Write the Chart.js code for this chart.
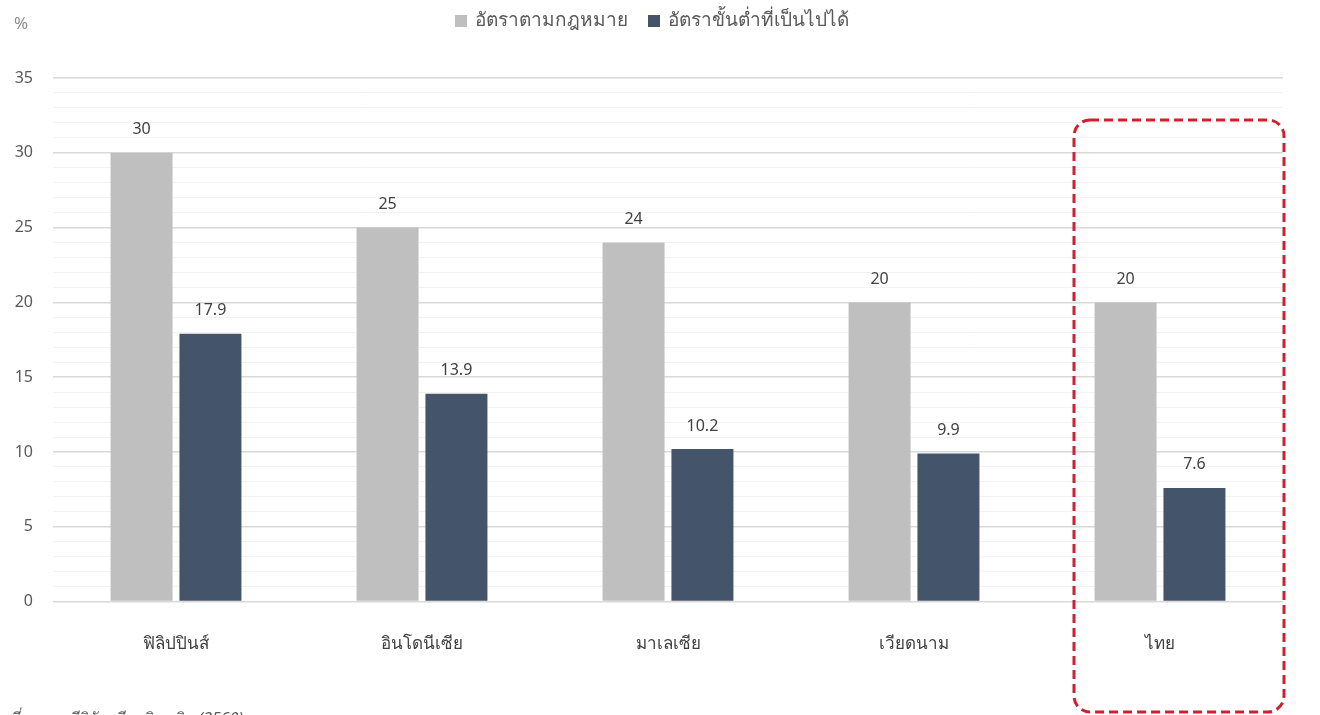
<!DOCTYPE html>
<html>
<head>
<meta charset="utf-8">
<script src="https://cdn.jsdelivr.net/npm/chart.js@4/dist/chart.umd.min.js"></script>
<style>
  html, body { margin: 0; padding: 0; background: #fff; }
  #wrap { width: 1320px; height: 715px; }
</style>
</head>
<body>
<div id="wrap"><canvas id="chart" width="1320" height="715"></canvas></div>
<script>
// data
const countries = ['ฟิลิปปินส์', 'อินโดนีเซีย', 'มาเลเซีย', 'เวียดนาม', 'ไทย'];
const legalRate = [30, 25, 24, 20, 20];
const minPossibleRate = [17.9, 13.9, 10.2, 9.9, 7.6];
const seriesNames = ['อัตราตามกฎหมาย', 'อัตราขั้นต่ำที่เป็นไปได้'];
const seriesColors = ['#bfbfbf', '#44546a'];
const highlightCountry = 'ไทย';

const FONT = '"Noto Sans", "DejaVu Sans", sans-serif';

// value labels above each bar
const valueLabels = {
    id: 'valueLabels',
    afterDatasetsDraw(chart) {
        const { ctx } = chart;
        ctx.save();
        ctx.font = '16px ' + FONT;
        ctx.fillStyle = '#404040';
        ctx.textAlign = 'center';
        ctx.textBaseline = 'middle';
        chart.data.datasets.forEach((ds, i) => {
            chart.getDatasetMeta(i).data.forEach((bar, j) => {
                ctx.fillText(String(ds.data[j]), bar.x, bar.y - 23);
            });
        });
        ctx.restore();
    }
};

// legend, "%" unit, source note and the red dashed box round Thailand
const extras = {
    id: 'extras',
    afterDraw(chart) {
        const { ctx, scales } = chart;
        ctx.save();
        ctx.textBaseline = 'middle';

        // legend drawn by hand so it sits where the original has it
        ctx.font = '19px ' + FONT;
        const legendX = [455, 648];
        seriesNames.forEach((name, i) => {
            ctx.fillStyle = seriesColors[i];
            ctx.fillRect(legendX[i], 15, 12, 12);
            ctx.fillStyle = '#595959';
            ctx.fillText(name, legendX[i] + 20, 21);
        });

        ctx.font = '17px ' + FONT;
        ctx.fillStyle = '#8c8c8c';
        ctx.fillText('%', 14, 24);
        ctx.fillStyle = '#595959';
        ctx.font = 'italic 16px ' + FONT;
        ctx.fillText('ที่มา: ภาคีวิจัย เกียรตินาคิน (2560)', 8, 719);

        const idx = countries.indexOf(highlightCountry);
        const cx = scales.x.getPixelForValue(idx);
        const left = cx - 86, right = cx + 124;
        const top = scales.y.getPixelForValue(32.2);
        const bottom = 712;
        const r = 16;
        ctx.strokeStyle = '#d0202e';
        ctx.lineWidth = 3;
        ctx.setLineDash([9, 5]);
        ctx.beginPath();
        ctx.moveTo(left + r, top);
        ctx.lineTo(right - r, top);
        ctx.arcTo(right, top, right, top + r, r);
        ctx.lineTo(right, bottom - r);
        ctx.arcTo(right, bottom, right - r, bottom, r);
        ctx.lineTo(left + r, bottom);
        ctx.arcTo(left, bottom, left, bottom - r, r);
        ctx.lineTo(left, top + r);
        ctx.arcTo(left, top, left + r, top, r);
        ctx.stroke();
        ctx.restore();
    }
};

new Chart(document.getElementById('chart').getContext('2d'), {
    type: 'bar',
    data: {
        labels: countries,
        datasets: [
            { label: seriesNames[0], data: legalRate, backgroundColor: seriesColors[0] },
            { label: seriesNames[1], data: minPossibleRate, backgroundColor: seriesColors[1] }
        ]
    },
    options: {
        responsive: false,
        animation: false,
        devicePixelRatio: 1,
        categoryPercentage: 0.56,
        barPercentage: 0.9,
        layout: { padding: { left: 0, right: 37, top: 78, bottom: 29 } },
        plugins: {
            legend: { display: false },
            tooltip: { enabled: false }
        },
        scales: {
            x: {
                grid: { display: false, drawTicks: false },
                border: { display: false },
                ticks: {
                    padding: 32,
                    color: '#404040',
                    font: { family: FONT, size: 17 }
                }
            },
            y: {
                min: 0,
                max: 35,
                afterFit: (scale) => { scale.width = 53; },
                border: { display: false },
                grid: {
                    drawTicks: false,
                    color: (c) => (c.tick.value % 5 === 0 ? '#d9d9d9' : '#f2f2f2'),
                    lineWidth: (c) => (c.tick.value % 5 === 0 ? 1.5 : 1)
                },
                ticks: {
                    stepSize: 1,
                    autoSkip: false,
                    padding: 20,
                    color: '#595959',
                    font: { family: FONT, size: 16 },
                    callback: (v) => (v % 5 === 0 ? v : '')
                }
            }
        }
    },
    plugins: [valueLabels, extras]
});
</script>
</body>
</html>
